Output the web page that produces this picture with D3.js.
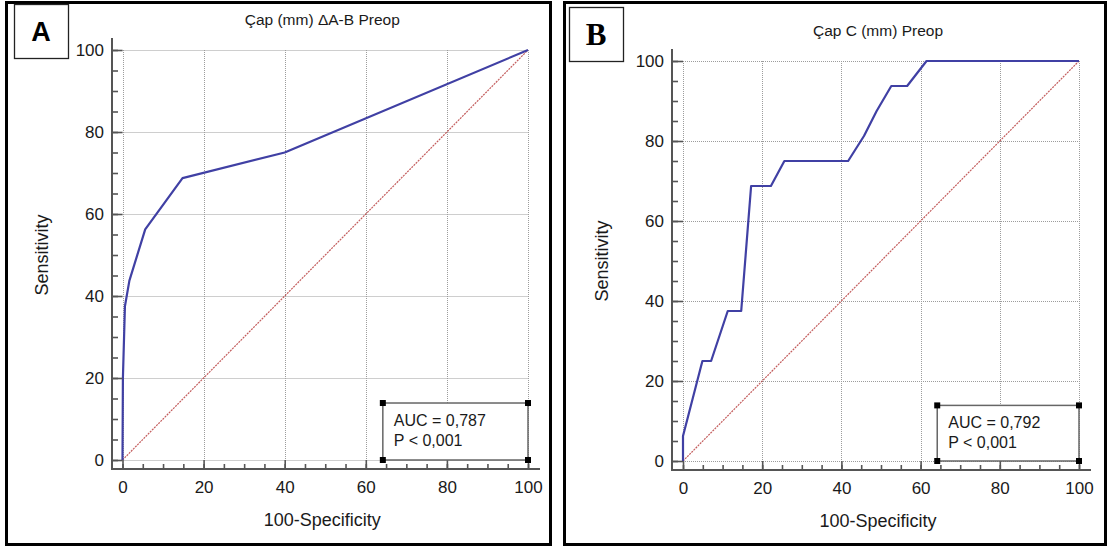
<!DOCTYPE html>
<html>
<head>
<meta charset="utf-8">
<script src="https://cdn.jsdelivr.net/npm/d3@7"></script>
<style>
	body { margin: 0; background: #fff; }
	text { font-family: "Liberation Sans", Arial, sans-serif; fill: #1a1a1a; }
</style>
</head>
<body>
<div id="chart"></div>
<script>
'use strict';

// ROC points, x = 100-specificity, y = sensitivity
const rocAx = [0, 0.1, 0.6, 1.7, 5.6, 14.8, 40, 100];
const rocAy = [0, 20, 37.5, 43.75, 56.25, 68.75, 75, 100];

const rocBx = [0, 0, 4.9, 7.1, 11.3, 14.7, 17.2, 22.2, 25.6, 41.7, 45.7, 48.9, 52.6, 56.6, 61.5, 100];
const rocBy = [0, 6.25, 25, 25, 37.5, 37.5, 68.75, 68.75, 75, 75, 81.25, 87.5, 93.75, 93.75, 100, 100];

const majorTicks = [0, 20, 40, 60, 80, 100];
const minorTicks = d3.range(0, 101, 5);

const titles = ["Çap (mm) ΔA-B Preop", "Çap C (mm) Preop"];
const letters = ["A", "B"];
const aucText = ["AUC = 0,787", "AUC = 0,792"];
const pText = ["P < 0,001", "P < 0,001"];
const xTitle = "100-Specificity";
const yTitle = "Sensitivity";

const svg = d3.select("#chart")
	.append("svg")
		.attr("width", 1109)
		.attr("height", 550);

// panel layout (pixels)
const panels = [
	{ frame: [6.5, 2.5, 544, 542], box: [14, 4, 54, 54], letterFont: "Liberation Sans", letterSize: 27,
	  x0: 122.5, x1: 528, yTop: 50, yBot: 460, axX: 112, axY: 469,
	  rx: rocAx, ry: rocAy },
	{ frame: [564.5, 2.5, 541, 542], box: [569, 7, 54, 54], letterFont: "Liberation Serif", letterSize: 31,
	  x0: 683, x1: 1079, yTop: 61, yBot: 461, axX: 672, axY: 470,
	  rx: rocBx, ry: rocBy }
];

panels.forEach((p, i) => {
	const g = svg.append("g");

	// outer frame
	g.append("rect")
		.attr("x", p.frame[0]).attr("y", p.frame[1])
		.attr("width", p.frame[2]).attr("height", p.frame[3])
		.attr("fill", "none").attr("stroke", "#000").attr("stroke-width", 3);

	// letter box
	g.append("rect")
		.attr("x", p.box[0] + 0.5).attr("y", p.box[1] + 0.5)
		.attr("width", p.box[2]).attr("height", p.box[3])
		.attr("fill", "#fff").attr("stroke", "#222").attr("stroke-width", 1.3);
	g.append("text")
		.attr("x", p.box[0] + p.box[2] / 2)
		.attr("y", p.box[1] + p.box[3] / 2)
		.attr("dy", "0.36em")
		.attr("text-anchor", "middle")
		.style("font-family", p.letterFont)
		.attr("font-weight", "bold")
		.attr("font-size", p.letterSize)
		.style("fill", "#000")
		.text(letters[i]);

	const x = d3.scaleLinear().domain([0, 100]).range([p.x0, p.x1]);
	const y = d3.scaleLinear().domain([0, 100]).range([p.yBot, p.yTop]);

	// grid
	const grid = g.append("g")
		.attr("stroke", "#9c9c9c")
		.attr("stroke-width", 1)
		.attr("stroke-dasharray", "1,1");
	grid.selectAll("line.v")
		.data(majorTicks)
		.join("line")
			.attr("x1", d => Math.round(x(d)) + 0.5).attr("x2", d => Math.round(x(d)) + 0.5)
			.attr("y1", y(100)).attr("y2", y(0));
	grid.selectAll("line.h")
		.data(majorTicks)
		.join("line")
			.attr("class", "h")
			.attr("y1", d => Math.round(y(d)) + 0.5).attr("y2", d => Math.round(y(d)) + 0.5)
			.attr("x1", x(0)).attr("x2", x(100));

	// reference diagonal
	g.append("line")
		.attr("x1", x(0)).attr("y1", y(0))
		.attr("x2", x(100)).attr("y2", y(100))
		.attr("stroke", "#b84040")
		.attr("stroke-opacity", 0.85)
		.attr("stroke-width", 1.2)
		.attr("stroke-dasharray", "2,1");

	// ROC curve
	const pts = p.rx.map((v, k) => [v, p.ry[k]]);
	g.append("path")
		.datum(pts)
		.attr("d", d3.line().x(d => x(d[0])).y(d => y(d[1])))
		.attr("fill", "none")
		.attr("stroke", "#4040a4")
		.attr("stroke-width", 2.2)
		.attr("stroke-linejoin", "round");

	// axes: inward ticks, offset from plot
	const tickLenX = p.axY - p.yBot;
	const tickLenY = p.x0 - p.axX;

	const yMajor = d3.axisLeft(y).tickValues(majorTicks).tickSizeInner(-tickLenY).tickSizeOuter(0).tickPadding(8);
	const yMinor = d3.axisLeft(y).tickValues(minorTicks).tickSizeInner(-6).tickSizeOuter(0).tickFormat("");
	const xMajor = d3.axisBottom(x).tickValues(majorTicks).tickSizeInner(-tickLenX).tickSizeOuter(0).tickPadding(12);
	const xMinor = d3.axisBottom(x).tickValues(minorTicks).tickSizeInner(-5).tickSizeOuter(0).tickFormat("");

	[
		[yMinor, `translate(${p.axX},0)`],
		[yMajor, `translate(${p.axX},0)`],
		[xMinor, `translate(0,${p.axY})`],
		[xMajor, `translate(0,${p.axY})`]
	].forEach(([ax, tr]) => {
		const a = g.append("g").attr("transform", tr).call(ax);
		a.select(".domain").remove();
		a.selectAll("line").attr("stroke", "#555").attr("stroke-width", 1.6);
		a.selectAll("text")
			.attr("font-size", 17)
			.style("font-family", "Liberation Sans, Arial, sans-serif")
			.attr("fill", "#1a1a1a");
	});

	// axis lines meeting at the corner
	g.append("path")
		.attr("d", `M${p.axX},${p.yTop - 12}V${p.axY}H${p.x1 + 12}`)
		.attr("fill", "none")
		.attr("stroke", "#555")
		.attr("stroke-width", 2);

	// titles
	g.append("text")
		.attr("x", (p.x0 + p.x1) / 2 - 3)
		.attr("y", p.yTop - 25)
		.attr("text-anchor", "middle")
		.attr("font-size", 15.5)
		.text(titles[i]);
	g.append("text")
		.attr("x", (p.x0 + p.x1) / 2 - 3)
		.attr("y", p.axY + 57)
		.attr("text-anchor", "middle")
		.attr("font-size", 18)
		.text(xTitle);
	g.append("text")
		.attr("transform", `translate(${p.axX - 70},${(p.yTop + p.yBot) / 2}) rotate(-90)`)
		.attr("text-anchor", "middle")
		.attr("dy", "0.35em")
		.attr("font-size", 18)
		.text(yTitle);

	// AUC box, bottom right of plot
	const bx0 = x(64.2), bx1 = x(100), by0 = y(13.9), by1 = y(0);
	g.append("rect")
		.attr("x", bx0).attr("y", by0)
		.attr("width", bx1 - bx0).attr("height", by1 - by0)
		.attr("fill", "#fff").attr("stroke", "#666").attr("stroke-width", 1.5);
	g.selectAll("rect.h")
		.data([[bx0, by0], [bx1, by0], [bx0, by1], [bx1, by1]])
		.join("rect")
			.attr("class", "h")
			.attr("x", d => d[0] - 3).attr("y", d => d[1] - 3)
			.attr("width", 6).attr("height", 6)
			.attr("fill", "#000");
	g.append("text")
		.attr("x", bx0 + 11).attr("y", by0 + 23)
		.attr("font-size", 16)
		.text(aucText[i]);
	g.append("text")
		.attr("x", bx0 + 11).attr("y", by0 + 43)
		.attr("font-size", 16)
		.text(pText[i]);
});
</script>
</body>
</html>
